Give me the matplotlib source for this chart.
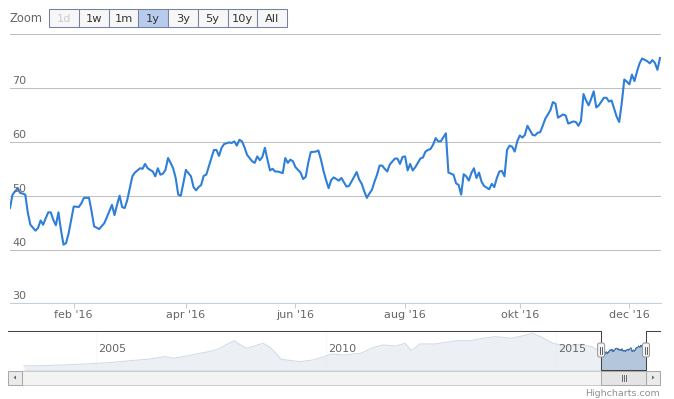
import matplotlib
matplotlib.use('Agg')
import matplotlib.pyplot as plt
from matplotlib.patches import Rectangle, FancyBboxPatch, Polygon
import pandas as pd

W, H = 674, 399

# visible year: trading-day offset from 2015-12-28 and closing value
tday = [0, 1, 2, 3, 4, 5, 6, 7, 8, 10, 11, 12, 13, 14, 15, 16, 17, 18, 19, 20,
        21, 22, 23, 24, 25, 27, 28, 29, 31, 32, 33, 35, 37, 38, 40, 41, 42, 43, 44, 45,
        46, 47, 48, 49, 51, 52, 53, 54, 56, 57, 58, 59, 60, 61, 62, 63, 64, 65, 66, 67,
        68, 69, 71, 72, 73, 74, 75, 76, 77, 79, 80, 81, 82, 83, 84, 86, 87, 88, 89, 90,
        91, 92, 93, 95, 96, 97, 98, 99, 100, 101, 102, 103, 104, 105, 107, 108, 109, 110, 111, 112,
        113, 114, 115, 116, 117, 118, 120, 121, 122, 123, 124, 125, 126, 127, 128, 129, 130, 131, 132, 133,
        135, 136, 137, 138, 139, 140, 141, 142, 143, 144, 145, 146, 147, 148, 149, 151, 152, 153, 154, 155,
        156, 157, 158, 159, 160, 161, 162, 163, 164, 165, 166, 167, 168, 169, 171, 172, 173, 174, 175, 176,
        177, 178, 179, 180, 181, 182, 183, 184, 185, 186, 188, 189, 190, 191, 192, 193, 194, 195, 196, 197,
        198, 199, 200, 201, 202, 203, 205, 206, 207, 208, 209, 210, 211, 212, 213, 214, 215, 217, 218, 219,
        220, 221, 222, 223, 224, 225, 226, 227, 228, 229, 230, 231, 233, 234, 235, 236, 237, 238, 239, 240,
        241, 242, 243, 244, 245, 246, 247, 248, 250, 251, 252, 253, 254, 255]
price = [47.7, 50.2, 50.8, 51.4, 50.5, 50.4, 50.2, 46.8, 44.6, 43.5, 44.0, 45.4, 44.6, 45.8, 46.9, 46.9, 45.5, 44.5, 46.9, 43.6,
         40.9, 41.2, 43.0, 45.5, 48.0, 47.9, 48.6, 49.6, 49.6, 47.1, 44.3, 43.8, 44.9, 46.0, 48.3, 46.4, 48.3, 50.0, 47.9, 47.7,
         49.2, 51.4, 53.6, 54.3, 55.1, 55.0, 55.9, 55.1, 54.5, 53.6, 55.1, 53.9, 54.1, 54.8, 57.0, 56.1, 55.1, 53.3, 50.2, 50.0,
         52.3, 54.8, 53.6, 51.6, 51.0, 51.6, 52.0, 53.7, 53.9, 57.0, 58.5, 58.5, 57.4, 58.9, 59.6, 59.9, 59.8, 60.1, 59.3, 60.4,
         60.1, 59.0, 57.6, 56.4, 56.1, 57.3, 56.6, 57.2, 58.9, 56.7, 54.7, 55.0, 54.5, 54.5, 54.2, 57.0, 56.1, 56.7, 56.4, 55.3,
         54.8, 54.3, 53.1, 53.5, 56.1, 58.1, 58.2, 58.4, 56.7, 54.6, 52.9, 51.4, 52.9, 53.4, 53.1, 52.8, 53.3, 52.5, 51.7, 51.8,
         53.5, 54.4, 53.0, 52.2, 50.8, 49.6, 50.4, 51.1, 52.6, 53.9, 55.6, 55.6, 55.0, 54.5, 55.8, 56.9, 56.9, 55.9, 57.2, 57.3,
         54.7, 55.9, 54.7, 55.3, 56.1, 56.9, 57.1, 58.2, 58.5, 58.7, 59.5, 60.7, 60.1, 60.1, 61.6, 54.3, 54.1, 53.9, 52.3, 52.0,
         50.2, 54.0, 53.6, 52.8, 54.2, 55.1, 53.3, 54.3, 52.6, 51.8, 51.2, 52.2, 51.6, 53.3, 54.5, 54.6, 53.6, 58.5, 59.3, 59.1,
         58.2, 60.1, 61.2, 60.8, 61.3, 63.0, 61.3, 61.2, 61.7, 61.8, 63.0, 64.3, 65.1, 65.9, 67.4, 67.1, 64.5, 65.1, 64.9, 63.4,
         63.6, 63.8, 63.7, 63.0, 63.9, 68.9, 67.7, 66.8, 68.0, 69.4, 66.4, 66.8, 68.2, 68.2, 67.5, 67.7, 66.2, 64.7, 63.7, 67.2,
         71.6, 71.2, 70.7, 72.5, 71.3, 73.1, 74.6, 75.5, 75.0, 74.6, 75.2, 74.7, 73.4, 75.6]

# navigator history before the visible year (decimal years)
hist_year = [2003.44, 2003.87, 2004.33, 2004.81, 2005.29, 2005.77, 2006.14, 2006.51, 2006.70, 2006.99,
             2007.27, 2007.47, 2007.66, 2007.83, 2008.01, 2008.12, 2008.27, 2008.41, 2008.64, 2008.79,
             2008.92, 2009.03, 2009.27, 2009.44, 2009.73, 2009.97, 2010.12, 2010.40, 2010.77, 2011.05,
             2011.25, 2011.53, 2011.73, 2011.86, 2012.05, 2012.38, 2012.86, 2013.14, 2013.42, 2013.70,
             2014.04, 2014.27, 2014.51, 2014.70, 2014.94, 2015.22, 2015.51, 2015.79]
hist_val = [7.2, 8.1, 10.2, 13.2, 17.1, 23.1, 27.3, 35.1, 30.3, 37.2,
            45.3, 50.1, 57.3, 70.2, 83.1, 73.2, 60.3, 65.1, 75.3, 63.3,
            45.3, 27.3, 23.1, 20.1, 25.2, 35.1, 43.2, 40.2, 45.3, 63.3,
            70.2, 67.2, 75.3, 53.1, 73.2, 73.2, 83.1, 83.1, 90.3, 95.1,
            90.3, 97.2, 105.3, 93.3, 75.3, 67.2, 72.3, 65.1]

y_ticks = [30, 40, 50, 60, 70, 80]
month_names = ['jan', 'feb', 'mar', 'apr', 'mai', 'jun', 'jul', 'aug', 'sep', 'okt', 'nov', 'dec']
tick_months = [2, 4, 6, 8, 10, 12]
zoom_buttons = ['1d', '1w', '1m', '1y', '3y', '5y', '10y', 'All']
nav_years = [2005, 2010, 2015]

bdays = pd.bdate_range('2015-12-28', periods=256)


def dec_year(d):
    return d.year + (d.dayofyear - 0.5) / (366 if d.is_leap_year else 365)


def box(l, t, r, b):
    # pixel box (origin top-left) -> figure fraction rect
    return [l / W, 1 - b / H, (r - l) / W, (b - t) / H]


fig = plt.figure(figsize=(W / 100, H / 100), dpi=100)

# main chart
ax = fig.add_axes(box(10, 34.3, 661, 303.3))
ax.set_xlim(0, 255.4)
ax.set_ylim(30, 80)
ax.plot(tday, price, color='#2f7ed8', lw=1.5, solid_joinstyle='round', zorder=3)
ax.set_yticks(y_ticks)
ax.yaxis.grid(True, color='#c0c0c0', lw=0.75)
ax.set_axisbelow(True)
ax.tick_params(axis='y', left=False, labelleft=False)
for v in y_ticks[:-1]:
    ax.annotate(str(v), xy=(0, v), xycoords=('axes fraction', 'data'),
                xytext=(2.5, 2), textcoords='offset pixels',
                ha='left', va='bottom', fontsize=8, color='#666666')
for s in ['top', 'left', 'right']:
    ax.spines[s].set_visible(False)
ax.spines['bottom'].set_color('#c0d0e0')
ax.spines['bottom'].set_linewidth(0.75)
month_pos = [bdays.searchsorted(pd.Timestamp(2016, m, 1)) for m in tick_months]
ax.set_xticks(month_pos, [f"{month_names[m - 1]} '16" for m in tick_months])
ax.tick_params(axis='x', length=3.6, width=0.75, color='#c0d0e0',
               labelcolor='#666666', labelsize=8, pad=1.2)

# navigator
nav_x = hist_year + [dec_year(bdays[i]) for i in tday]
nav_y = hist_val + price
sel_start = dec_year(bdays[tday[0]])
sel_end = dec_year(bdays[tday[-1]])
nav = fig.add_axes(box(22, 330.7, 646, 370))
nav.set_xlim(2003.4, sel_end)
nav.set_ylim(-5, 113)
nav.axis('off')
for yr in nav_years:
    nav.axvline(yr, color='#e8e8e8', lw=0.75, zorder=0)
nav.fill_between(nav_x, -5, nav_y, color='#4572a7', alpha=0.4, lw=0, zorder=1)
nav.plot(nav_x, nav_y, color='#4572a7', lw=0.75, zorder=2)
nav.axvspan(2003.4, sel_start, color='white', alpha=0.75, lw=0, zorder=3)
for yr in nav_years:
    nav.annotate(str(yr), xy=(yr, 0.5), xycoords=('data', 'axes fraction'),
                 xytext=(3, 1), textcoords='offset pixels',
                 ha='left', va='center', fontsize=8, color='#666666', zorder=4)

# overlay in pixel coordinates for the chrome
ui = fig.add_axes([0, 0, 1, 1])
ui.set_xlim(0, W)
ui.set_ylim(H, 0)
ui.axis('off')

xs = nav.transData.transform((sel_start, 0))[0]
xe = nav.transData.transform((sel_end, 0))[0]

# range selector
ui.text(10, 18, 'Zoom', ha='left', va='center', fontsize=8.3, color='#666666')
bx, bw = 49, 29.75
for i, lab in enumerate(zoom_buttons):
    sel = lab == '1y'
    ui.add_patch(Rectangle((bx + i * bw, 9), bw, 18, fc='#b8cbec' if sel else '#f7f7f7',
                           ec='#71839f', lw=0.75))
    ui.text(bx + i * bw + bw / 2, 18.5, lab, ha='center', va='center', fontsize=8.2,
            color='#cccccc' if lab == '1d' else '#333333')

# navigator outline and handles
ui.plot([8, xs, xs, xe, xe, 660], [330.5, 330.5, 370, 370, 330.5, 330.5],
        color='#444444', lw=0.75)
for hx in (xs, xe):
    ui.add_patch(FancyBboxPatch((hx - 3.5, 343), 7, 14,
                                boxstyle='round,pad=0,rounding_size=2',
                                fc='#f4f4f4', ec='#999999', lw=0.75, zorder=5))
    for dx in (-1, 1):
        ui.plot([hx + dx, hx + dx], [346.5, 353.5], color='#444444', lw=0.6, zorder=6)

# scrollbar
ui.add_patch(Rectangle((22, 370.5), 624, 14, fc='#f3f3f3', ec='#cccccc', lw=0.75))
for x0 in (8, 646):
    ui.add_patch(Rectangle((x0, 370.5), 14, 14, fc='#ebebeb', ec='#aaaaaa', lw=0.75))
ui.add_patch(Polygon([(13.5, 377.5), (16, 375.5), (16, 379.5)], fc='#666666', ec='none'))
ui.add_patch(Polygon([(654.5, 377.5), (652, 375.5), (652, 379.5)], fc='#666666', ec='none'))
ui.add_patch(Rectangle((xs, 370.5), xe - xs, 14, fc='#e4e4e4', ec='#aaaaaa', lw=0.75))
xm = (xs + xe) / 2
for dx in (-2, 0, 2):
    ui.plot([xm + dx, xm + dx], [374.5, 380.5], color='#555555', lw=0.6)

ui.text(660, 393, 'Highcharts.com', ha='right', va='center', fontsize=6.8, color='#909090')

fig.savefig('out.png', dpi=100)
